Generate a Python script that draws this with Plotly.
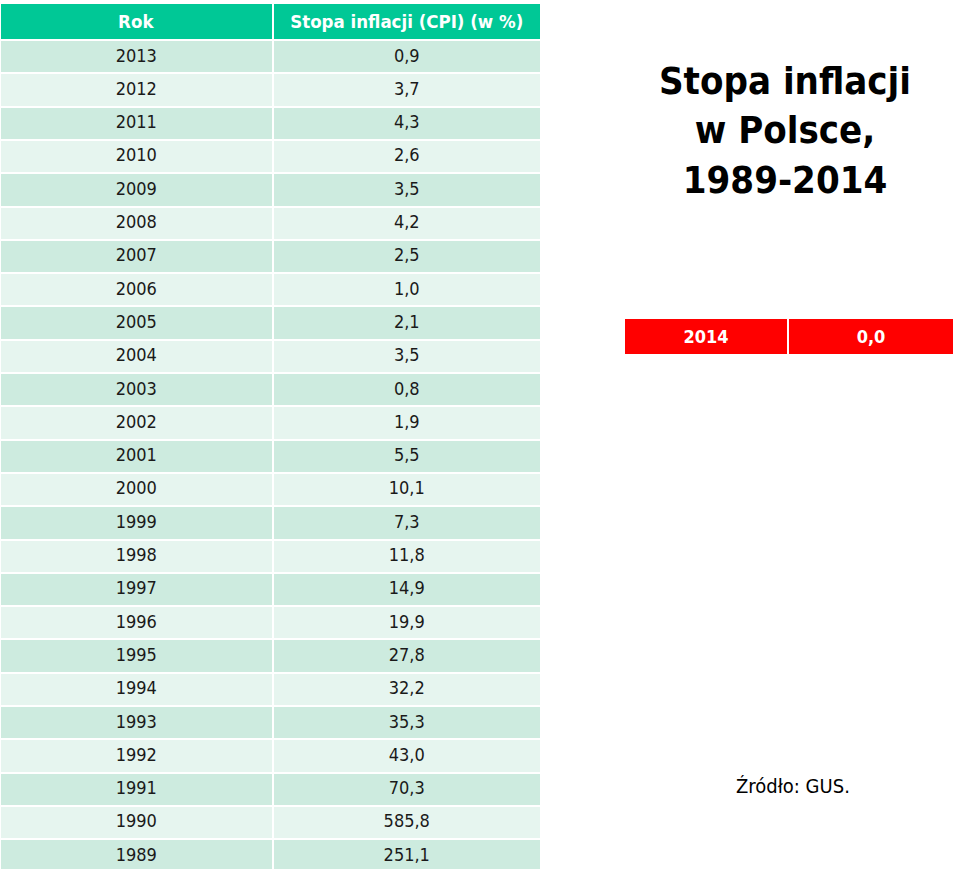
import plotly.graph_objects as go

# Data
years = [2013, 2012, 2011, 2010, 2009, 2008, 2007, 2006, 2005, 2004, 2003, 2002,
         2001, 2000, 1999, 1998, 1997, 1996, 1995, 1994, 1993, 1992, 1991, 1990, 1989]
cpi = [0.9, 3.7, 4.3, 2.6, 3.5, 4.2, 2.5, 1.0, 2.1, 3.5, 0.8, 1.9,
       5.5, 10.1, 7.3, 11.8, 14.9, 19.9, 27.8, 32.2, 35.3, 43.0, 70.3, 585.8, 251.1]
headers = ["Rok", "Stopa inflacji (CPI) (w %)"]
latest_year = 2014
latest_cpi = 0.0

FONT = "Tahoma, 'DejaVu Sans Condensed', 'DejaVu Sans', sans-serif"
W, H = 959, 869


def pl(v):
    return f"{v:.1f}".replace(".", ",")


row_colors = ["#cdebdf" if i % 2 == 0 else "#e6f5ef" for i in range(len(years))]

fig = go.Figure()

fig.add_trace(go.Table(
    domain=dict(x=[0, 541 / W], y=[0, 1 - 3 / H]),
    columnwidth=[272, 268],
    header=dict(
        values=[f"<b>{h}</b>" for h in headers],
        fill_color="#00c896",
        line=dict(color="white", width=2),
        font=dict(family=FONT, size=18.5, color="white"),
        align="center",
        height=33.3,
    ),
    cells=dict(
        values=[[str(y) for y in years], [pl(v) for v in cpi]],
        fill_color=[row_colors, row_colors],
        line=dict(color="white", width=2),
        font=dict(family=FONT, size=18, color="#1a1a1a"),
        align="center",
        height=33.3,
    ),
))

# current year row, in red
fig.add_trace(go.Table(
    domain=dict(x=[624 / W, 954 / W], y=[1 - 354 / H, 1 - 318 / H]),
    columnwidth=[164, 166],
    header=dict(
        values=[f"<b>{latest_year}</b>", f"<b>{pl(latest_cpi)}</b>"],
        fill_color="#ff0000",
        line=dict(color="white", width=2),
        font=dict(family=FONT, size=18, color="white"),
        align="center",
        height=34,
    ),
    cells=dict(values=[[], []]),
))

fig.add_annotation(
    x=785 / W, y=1 - 131 / H, xref="paper", yref="paper",
    xanchor="center", yanchor="middle",
    text="<b>Stopa inflacji<br>w Polsce,<br>1989-2014</b>",
    showarrow=False, align="center",
    font=dict(family=FONT, size=38, color="black"),
)

fig.add_annotation(
    x=793 / W, y=1 - 786 / H, xref="paper", yref="paper",
    xanchor="center", yanchor="middle",
    text="Źródło: GUS.",
    showarrow=False,
    font=dict(family=FONT, size=20, color="black"),
)

fig.update_layout(
    width=W, height=H,
    margin=dict(l=0, r=0, t=0, b=0),
    paper_bgcolor="white",
    plot_bgcolor="white",
)

fig.write_html("out.html", config={"displayModeBar": False},
               post_script="document.body.style.margin='0';")
